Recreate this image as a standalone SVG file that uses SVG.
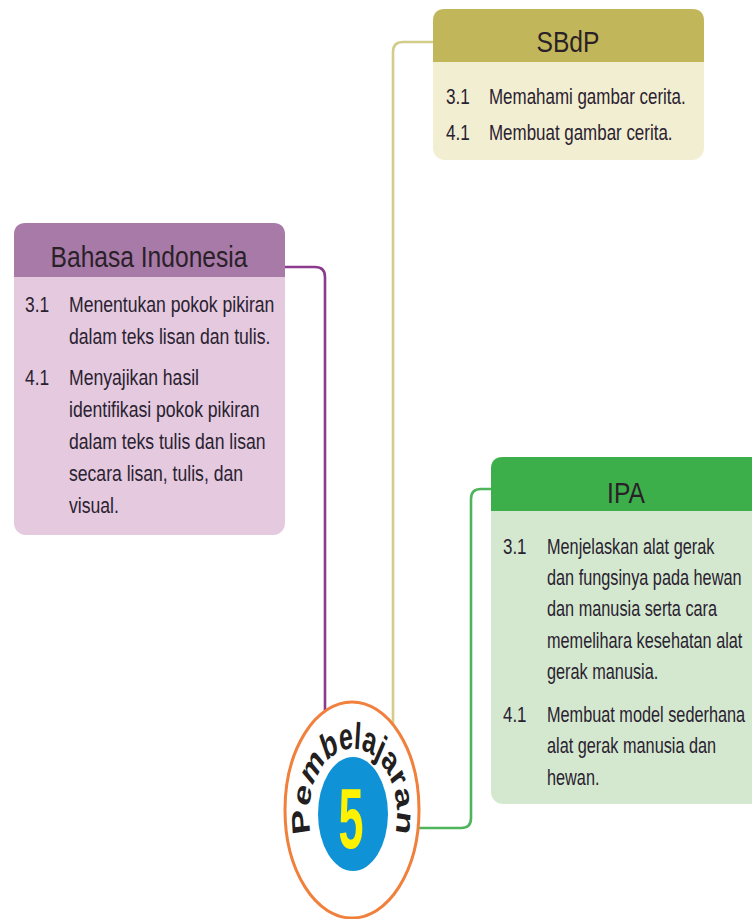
<svg xmlns="http://www.w3.org/2000/svg" width="752" height="919" viewBox="0 0 752 919">
<style>
  .hd { font-family: "Liberation Sans", Arial, sans-serif; font-size: 30px; fill: #2a2128; text-anchor: middle; }
  .tx { font-family: "Liberation Sans", Arial, sans-serif; font-size: 22px; fill: #2a2230; }
  .conn { fill: none; stroke-width: 2.6; stroke-linecap: round; }
  .arc { font-family: "Liberation Sans", Arial, sans-serif; font-weight: bold; font-size: 25px; fill: #231f20; }
</style>
<defs>
  <path id="arcPath" d="M -41.5 15.1 A 44 44 0 1 1 41.5 15.1"/>
</defs>
<rect width="752" height="919" fill="#ffffff"/>

<g id="connectors">
  <path class="conn" stroke="#8b3a8e" d="M 285 267 H 315 Q 325 267 325 277 V 715"/>
  <path class="conn" stroke="#d3cd8c" d="M 433 42 H 403 Q 393 42 393 52 V 728"/>
  <path class="conn" stroke="#4fb45c" d="M 491 489 H 481 Q 471 489 471 499 V 818 Q 471 828 461 828 H 414"/>
</g>

<g id="bahasa-indonesia">
  <rect x="14" y="223" width="271" height="312" rx="12" fill="#e4c9df"/>
  <path d="M 14 277 V 235 Q 14 223 26 223 H 273 Q 285 223 285 235 V 277 Z" fill="#a77aa8"/>
  <text class="hd" transform="translate(149 267) scale(0.82 1)">Bahasa Indonesia</text>
  <g transform="translate(25 0) scale(0.79 1)">
    <text class="tx" y="312">3.1</text>
    <text class="tx" y="385">4.1</text>
  </g>
  <g transform="translate(69 0) scale(0.8 1)">
    <text class="tx" y="312">Menentukan pokok pikiran</text>
    <text class="tx" y="344">dalam teks lisan dan tulis.</text>
    <text class="tx" y="385">Menyajikan hasil</text>
    <text class="tx" y="417">identifikasi pokok pikiran</text>
    <text class="tx" y="449">dalam teks tulis dan lisan</text>
    <text class="tx" y="481">secara lisan, tulis, dan</text>
    <text class="tx" y="513">visual.</text>
  </g>
</g>

<g id="sbdp">
  <rect x="433" y="9" width="271" height="151" rx="12" fill="#f2eed2"/>
  <path d="M 433 62 V 21 Q 433 9 445 9 H 692 Q 704 9 704 21 V 62 Z" fill="#c2b65a"/>
  <text class="hd" transform="translate(568 52) scale(0.82 1)">SBdP</text>
  <g transform="translate(446 0) scale(0.78 1)">
    <text class="tx" y="104">3.1</text>
    <text class="tx" y="140">4.1</text>
  </g>
  <g transform="translate(489 0) scale(0.77 1)">
    <text class="tx" y="104">Memahami gambar cerita.</text>
    <text class="tx" y="140">Membuat gambar cerita.</text>
  </g>
</g>

<g id="ipa">
  <rect x="491" y="457" width="272" height="347" rx="12" fill="#d4e8cf"/>
  <path d="M 491 511 V 469 Q 491 457 503 457 H 751 Q 763 457 763 469 V 511 Z" fill="#3daf4a"/>
  <text class="hd" transform="translate(626 503) scale(0.82 1)">IPA</text>
  <g transform="translate(503 0) scale(0.77 1)">
    <text class="tx" y="554">3.1</text>
    <text class="tx" y="722">4.1</text>
  </g>
  <g transform="translate(547 0) scale(0.74 1)">
    <text class="tx" y="554">Menjelaskan alat gerak</text>
    <text class="tx" y="585">dan fungsinya pada hewan</text>
    <text class="tx" y="616">dan manusia serta cara</text>
    <text class="tx" y="648">memelihara kesehatan alat</text>
    <text class="tx" y="679">gerak manusia.</text>
    <text class="tx" y="722">Membuat model sederhana</text>
    <text class="tx" y="753">alat gerak manusia dan</text>
    <text class="tx" y="785">hewan.</text>
  </g>
</g>

<g id="pembelajaran-5">
  <ellipse cx="352" cy="810" rx="67" ry="108" fill="#ffffff" stroke="#f0803c" stroke-width="3"/>
  <ellipse cx="353" cy="814" rx="35" ry="57" fill="#0f93d6"/>
  <g transform="translate(353 814) scale(1 1.5)">
    <text class="arc"><textPath href="#arcPath" startOffset="50%" text-anchor="middle">Pembelajaran</textPath></text>
  </g>
  <text transform="translate(351 848) scale(1 1.9)" x="0" y="0" text-anchor="middle" font-family="Liberation Sans, Arial, sans-serif" font-weight="bold" font-size="45" fill="#fff200">5</text>
</g>
</svg>
